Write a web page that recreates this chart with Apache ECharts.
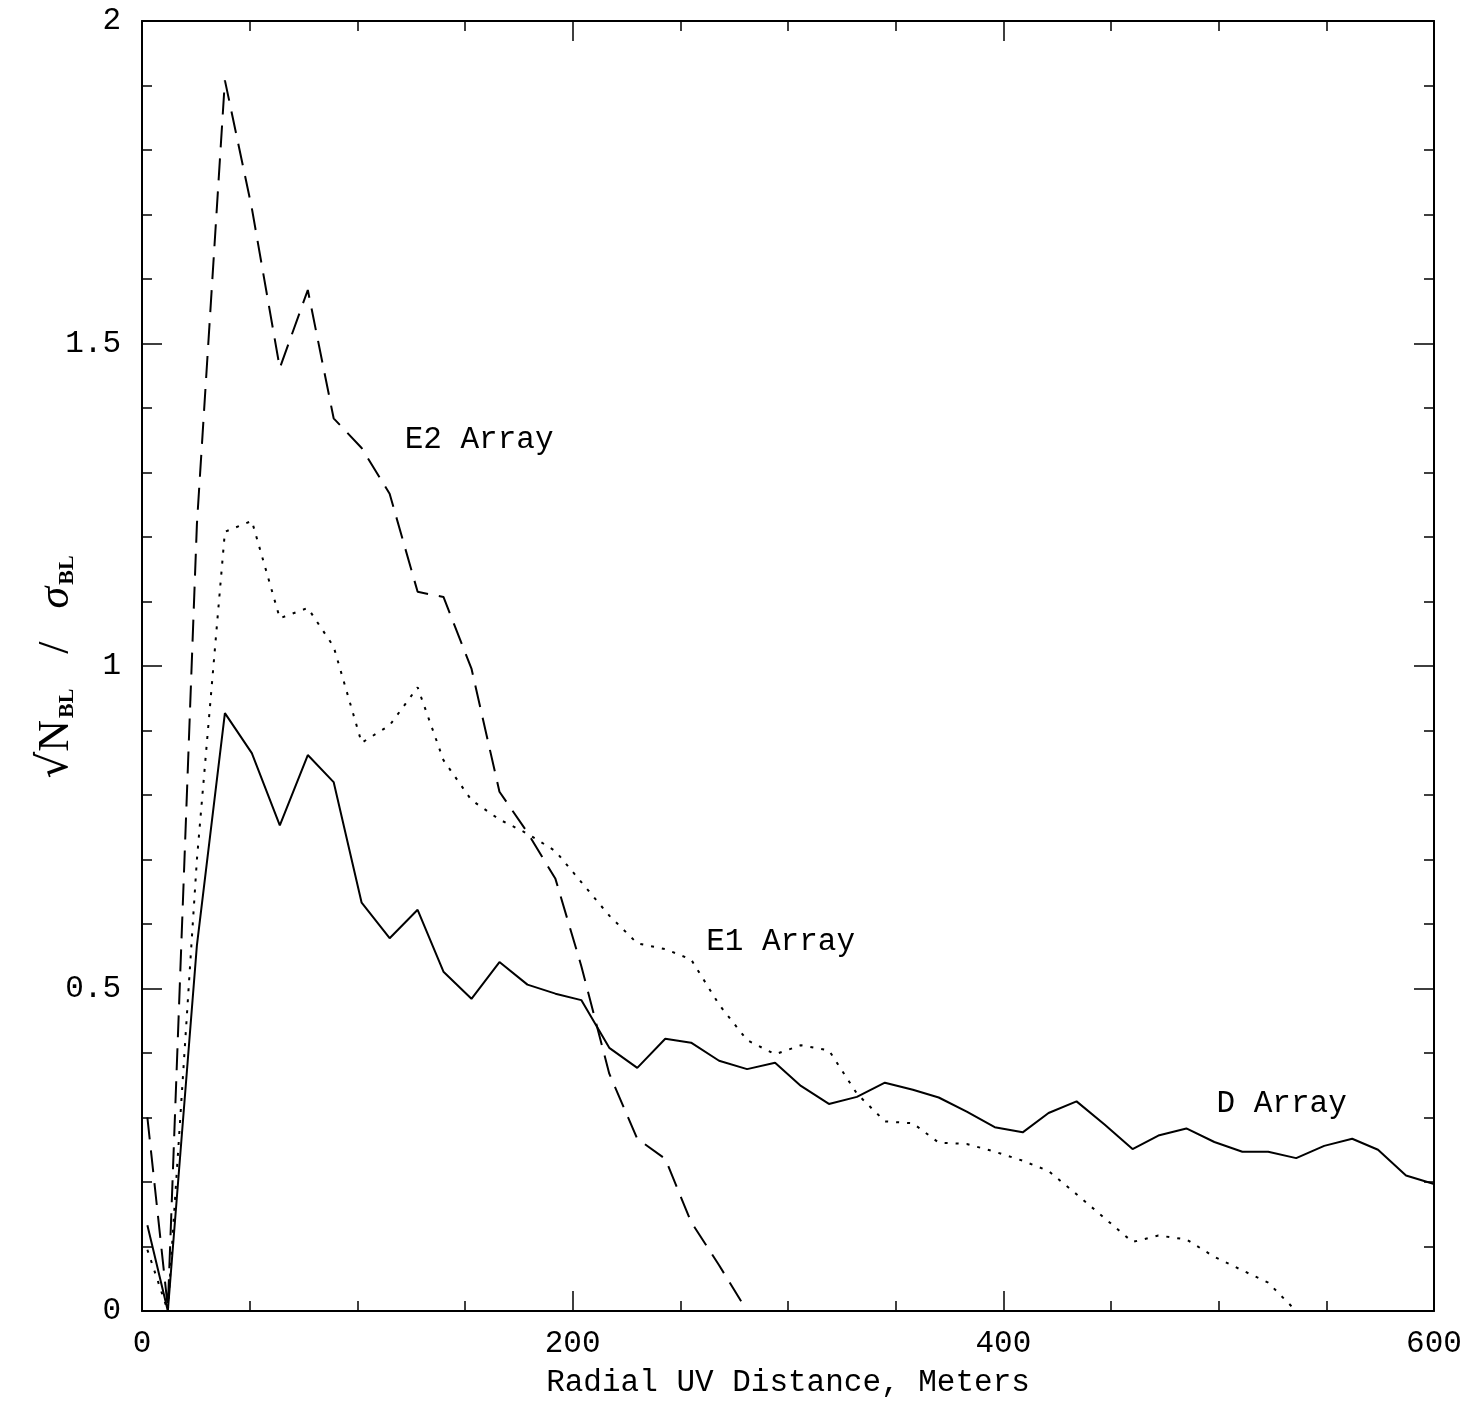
<!DOCTYPE html>
<html>
<head>
<meta charset="utf-8">
<script src="https://cdn.jsdelivr.net/npm/echarts@6/dist/echarts.min.js"></script>
<style>
  html, body { margin: 0; padding: 0; background: #fff; }
  #chart { width: 1483px; height: 1403px; }
</style>
</head>
<body>
<div id="chart"></div>
<script>
// radial uv distance (m) of each bin
const radius = [2.5, 12, 25.5, 38.5, 51, 64, 77, 89, 102, 115, 128, 140, 153, 166, 179, 192,
  204, 217, 230, 243, 255, 268, 281, 294, 306, 319, 332, 345, 358, 370, 383, 396,
  409, 421, 434, 447, 460, 472, 485, 498, 511, 523, 536, 549, 562, 574, 587, 600];

// sqrt(N_BL) / sigma_BL per array
const dArray = [0.133, 0.0, 0.567, 0.927, 0.865, 0.753, 0.862, 0.82, 0.633, 0.578, 0.622, 0.526,
  0.484, 0.541, 0.506, 0.492, 0.482, 0.408, 0.377, 0.422, 0.416, 0.388, 0.375, 0.385,
  0.349, 0.321, 0.332, 0.354, 0.343, 0.331, 0.309, 0.285, 0.277, 0.307, 0.325, 0.289,
  0.251, 0.272, 0.283, 0.262, 0.247, 0.247, 0.237, 0.256, 0.267, 0.250, 0.210, 0.197];

const e1Array = [0.095, 0.0, 0.70, 1.208, 1.225, 1.074, 1.09, 1.03, 0.881, 0.908, 0.967, 0.854,
  0.792, 0.762, 0.74, 0.713, 0.665, 0.613, 0.570, 0.561, 0.545, 0.475, 0.420, 0.398,
  0.412, 0.404, 0.337, 0.294, 0.291, 0.261, 0.259, 0.247, 0.233, 0.217, 0.181, 0.144,
  0.107, 0.117, 0.111, 0.084, 0.063, 0.044, 0.0];

const e2Array = [0.30, 0.005, 1.22, 1.908, 1.71, 1.462, 1.583, 1.384, 1.338, 1.267, 1.115, 1.107,
  0.996, 0.805, 0.742, 0.67, 0.535, 0.368, 0.267, 0.236, 0.138, 0.071, 0.0];

// curve labels, anchored at the left end of the text (data coords)
const labelNames = ["E2 Array", "E1 Array", "D Array"];
const labelX = [122, 262, 499];
const labelY = [1.35, 0.572, 0.321];

const FONT = "Liberation Mono";

const pairs = (ys) => ys.map((v, i) => [radius[i], v]);

const chart = echarts.init(document.getElementById("chart"), null, { renderer: "canvas" });

const tickCommon = {
  axisLine: { show: true, onZero: false, lineStyle: { color: "#000", width: 2 } },
  axisTick: { show: true, inside: true, length: 20, lineStyle: { color: "#000", width: 1.5 } },
  minorTick: { show: true, length: 10, lineStyle: { color: "#000", width: 1.5 } },
  splitLine: { show: false },
  minorSplitLine: { show: false }
};

const lineSeries = (name, ys, type) => ({
  name,
  type: "line",
  data: pairs(ys),
  symbol: "none",
  showSymbol: false,
  silent: true,
  lineStyle: { color: "#000", width: 2, type },
  z: 3
});

chart.setOption({
  animation: false,
  backgroundColor: "#fff",
  grid: { left: 142, right: 49, top: 21, bottom: 92, containLabel: false },
  xAxis: [
    {
      type: "value", min: 0, max: 600, interval: 200, position: "bottom",
      ...tickCommon,
      minorTick: { ...tickCommon.minorTick, splitNumber: 4 },
      axisLabel: {
        show: true, margin: 17, color: "#000", fontFamily: FONT, fontSize: 31,
        showMinLabel: true, showMaxLabel: true
      },
      name: "Radial UV Distance, Meters",
      nameLocation: "middle",
      nameGap: 56,
      nameMoveOverlap: false,
      nameTextStyle: { color: "#000", fontFamily: FONT, fontSize: 31 }
    },
    {
      type: "value", min: 0, max: 600, interval: 200, position: "top",
      ...tickCommon,
      minorTick: { ...tickCommon.minorTick, splitNumber: 4 },
      axisLabel: { show: false }
    }
  ],
  yAxis: [
    {
      type: "value", min: 0, max: 2, interval: 0.5, position: "left",
      ...tickCommon,
      minorTick: { ...tickCommon.minorTick, splitNumber: 5 },
      axisLabel: {
        show: true, margin: 21, color: "#000", fontFamily: FONT, fontSize: 31,
        showMinLabel: true, showMaxLabel: true
      },
      name: "{r|\u221A}{n|N}{s|BL}{n|   /   }{g|\u03C3}{s|BL}",
      nameLocation: "middle",
      nameGap: 64,
      nameMoveOverlap: false,
      nameRotate: 90,
      nameTextStyle: {
        color: "#000",
        rich: {
          r: { fontFamily: "DejaVu Serif", fontSize: 42, color: "#000" },
          n: { fontFamily: "Liberation Serif", fontSize: 44, color: "#000" },
          g: { fontFamily: "Liberation Serif", fontStyle: "italic", fontSize: 44, color: "#000" },
          s: { fontFamily: "Liberation Serif", fontWeight: "bold", fontSize: 22, color: "#000",
               verticalAlign: "bottom", padding: [0, 2, 0, 2] }
        }
      }
    },
    {
      type: "value", min: 0, max: 2, interval: 0.5, position: "right",
      ...tickCommon,
      minorTick: { ...tickCommon.minorTick, splitNumber: 5 },
      axisLabel: { show: false }
    }
  ],
  series: [
    lineSeries("D Array", dArray, "solid"),
    lineSeries("E1 Array", e1Array, [3, 8]),
    lineSeries("E2 Array", e2Array, [22, 11])
  ]
});

// place the curve labels at their data positions
chart.setOption({
  graphic: labelNames.map((n, i) => {
    const [px, py] = chart.convertToPixel({ gridIndex: 0 }, [labelX[i], labelY[i]]);
    return {
      type: "text",
      x: px,
      y: py,
      silent: true,
      style: {
        text: n,
        fill: "#000",
        font: "31px " + FONT,
        textAlign: "left",
        textVerticalAlign: "middle"
      }
    };
  })
});
</script>
</body>
</html>
